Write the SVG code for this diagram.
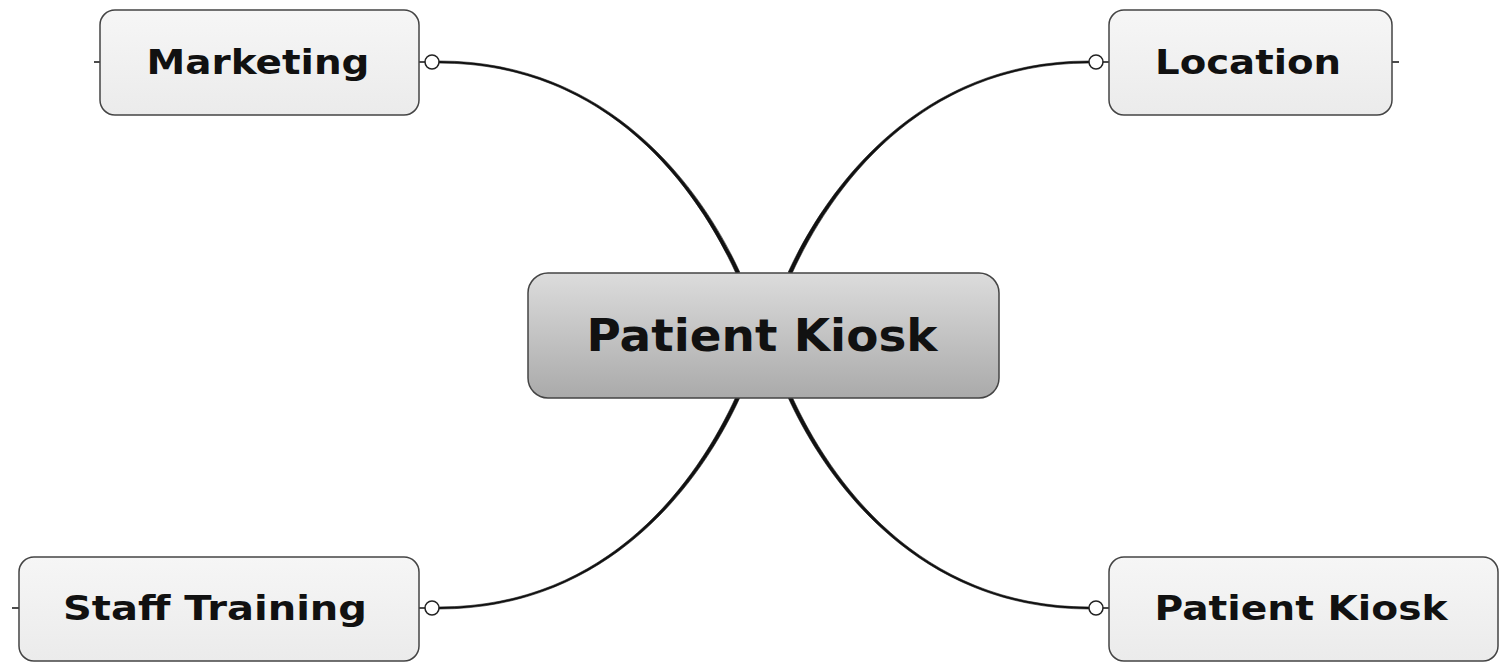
<svg xmlns="http://www.w3.org/2000/svg" width="1499" height="663" viewBox="0 0 1499 663">
  <defs>
    <linearGradient id="topicFill" x1="0" y1="0" x2="0" y2="1">
      <stop offset="0" stop-color="#f6f6f6"/>
      <stop offset="1" stop-color="#ebebeb"/>
    </linearGradient>
    <linearGradient id="centralFill" x1="0" y1="0" x2="0" y2="1">
      <stop offset="0" stop-color="#dcdcdc"/>
      <stop offset="1" stop-color="#aaaaaa"/>
    </linearGradient>
    <!-- tapered branch: thin at the subtopic knob, heavier at the central topic -->
    <path id="branch" d="M439,61 C610,61 701.8,189.2 739.8,272.2 L736.2,273.8 C698.2,190.8 610,63 439,63 Z"/>
  </defs>
  <style>
    .box { fill: url(#topicFill); stroke: #444; stroke-width: 1.5; }
    .central { fill: url(#centralFill); stroke: #444; stroke-width: 1.5; }
    .label { font-family: "DejaVu Sans", Verdana, sans-serif; font-weight: bold; fill: #111; text-anchor: middle; dominant-baseline: central; }
    .branch { fill: #111; stroke: #111; stroke-width: 0.6; }
    .tick { stroke: #111; stroke-width: 1.5; }
    .knob { fill: #fff; stroke: #222; stroke-width: 1.5; }
  </style>
  <rect width="1499" height="663" fill="#fff"/>

  <g id="connectors">
    <use href="#branch" class="branch"/>
    <use href="#branch" class="branch" transform="translate(1528,0) scale(-1,1)"/>
    <use href="#branch" class="branch" transform="translate(0,670) scale(1,-1)"/>
    <use href="#branch" class="branch" transform="translate(1528,670) scale(-1,-1)"/>
    <line class="tick" x1="419" y1="62" x2="432" y2="62"/>
    <line class="tick" x1="1096" y1="62" x2="1109" y2="62"/>
    <line class="tick" x1="419" y1="608" x2="432" y2="608"/>
    <line class="tick" x1="1096" y1="608" x2="1109" y2="608"/>
    <line class="tick" x1="94" y1="62" x2="100" y2="62"/>
    <line class="tick" x1="1392" y1="62" x2="1399" y2="62"/>
    <line class="tick" x1="12" y1="608" x2="19" y2="608"/>
    <circle class="knob" cx="432" cy="62" r="7"/>
    <circle class="knob" cx="1096" cy="62" r="7"/>
    <circle class="knob" cx="432" cy="608" r="7"/>
    <circle class="knob" cx="1096" cy="608" r="7"/>
  </g>

  <g id="central-topic">
    <rect class="central" x="528" y="273" width="471" height="125" rx="20"/>
    <text class="label" x="762" y="335.5" font-size="45" textLength="351" lengthAdjust="spacingAndGlyphs">Patient Kiosk</text>
  </g>

  <g id="marketing">
    <rect class="box" x="100" y="10" width="319" height="105" rx="15"/>
    <text class="label" x="258" y="61.5" font-size="34" textLength="223" lengthAdjust="spacingAndGlyphs">Marketing</text>
  </g>

  <g id="location">
    <rect class="box" x="1109" y="10" width="283" height="105" rx="15"/>
    <text class="label" x="1248" y="61.5" font-size="34" textLength="186" lengthAdjust="spacingAndGlyphs">Location</text>
  </g>

  <g id="staff-training">
    <rect class="box" x="19" y="557" width="400" height="104" rx="15"/>
    <text class="label" x="215" y="607.5" font-size="34" textLength="304" lengthAdjust="spacingAndGlyphs">Staff Training</text>
  </g>

  <g id="patient-kiosk">
    <rect class="box" x="1109" y="557" width="389" height="104" rx="15"/>
    <text class="label" x="1301" y="607.5" font-size="34" textLength="293" lengthAdjust="spacingAndGlyphs">Patient Kiosk</text>
  </g>
</svg>
